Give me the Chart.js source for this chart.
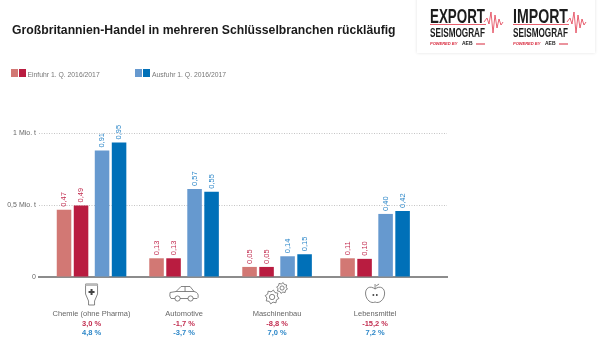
<!DOCTYPE html>
<html lang="de">
<head>
<meta charset="utf-8">
<title>Großbritannien-Handel</title>
<script src="https://cdn.jsdelivr.net/npm/chart.js@4"></script>
<style>
    html, body { margin: 0; padding: 0; background: #fff; }
    #wrap { position: relative; width: 600px; height: 356px; overflow: hidden; font-family: "Liberation Sans", sans-serif; }
    #chart { position: absolute; left: 0; top: 0; }
    h1 { position: absolute; left: 12px; top: 19.5px; margin: 0; font-size: 13.5px; line-height: 20px; font-weight: bold; color: #1a1a1a; white-space: nowrap; transform: scaleX(0.905); transform-origin: left center; }
    .swatch { position: absolute; top: 69px; width: 7px; height: 8px; }
    .legend { position: absolute; top: 69px; font-size: 6.8px; line-height: 11px; color: #777; white-space: nowrap; }
</style>
</head>
<body>
<div id="wrap">
    <canvas id="chart" width="600" height="356"></canvas>
    <h1>Großbritannien-Handel in mehreren Schlüsselbranchen rückläufig</h1>
    <div class="swatch" style="left:11px;background:#d27874"></div>
    <div class="swatch" style="left:19px;background:#b91c40"></div>
    <div class="legend" style="left:27.5px">Einfuhr 1. Q. 2016/2017</div>
    <div class="swatch" style="left:135px;background:#6699cf"></div>
    <div class="swatch" style="left:143px;background:#0070b8"></div>
    <div class="legend" style="left:152px">Ausfuhr 1. Q. 2016/2017</div>
</div>
<script>
var categories = ["Chemie (ohne Pharma)", "Automotive", "Maschinenbau", "Lebensmittel"];

// bar heights as they were drawn in the picture, printed labels differ a bit
var einfuhr2016 = [0.467, 0.13, 0.07, 0.13];
var einfuhr2017 = [0.497, 0.13, 0.07, 0.126];
var ausfuhr2016 = [0.878, 0.611, 0.144, 0.438];
var ausfuhr2017 = [0.934, 0.592, 0.158, 0.459];

var einfuhr2016_labels = ["0,47", "0,13", "0,05", "0,11"];
var einfuhr2017_labels = ["0,49", "0,13", "0,05", "0,10"];
var ausfuhr2016_labels = ["0,91", "0,57", "0,14", "0,40"];
var ausfuhr2017_labels = ["0,95", "0,55", "0,15", "0,42"];

var einfuhr_change = ["3,0 %", "-1,7 %", "-8,8 %", "-15,2 %"];
var ausfuhr_change = ["4,8 %", "-3,7 %", "7,0 %", "7,2 %"];

var y_ticks = { 0: "0", 0.5: "0,5 Mio. t", 1: "1 Mio. t" };

const RED = "#c22d50";
const BLUE = "#2b86c8";
const GRAY = "#666";

// the groups are not evenly spaced in the original, pairs sit a little apart
const group_nudge = [0, -2, -3.5, 0];
const pair_nudge = [-2, -2, 2, 2];

function toPoints(values) {
    return values.map(function(v, i) { return { x: i, y: v }; });
}

function drawTube(ctx, x, y) {
    ctx.beginPath();
    ctx.moveTo(x - 6, y - 11);
    ctx.lineTo(x + 6, y - 11);
    ctx.lineTo(x + 6, y - 1);
    ctx.lineTo(x + 3, y + 6);
    ctx.lineTo(x + 3, y + 10);
    ctx.lineTo(x - 3, y + 10);
    ctx.lineTo(x - 3, y + 6);
    ctx.lineTo(x - 6, y - 1);
    ctx.closePath();
    ctx.stroke();
    ctx.fillStyle = "#bbb";
    ctx.fillRect(x - 6, y - 11, 12, 2);
    ctx.fillStyle = "#444";
    ctx.fillRect(x - 1, y - 6, 2, 6);
    ctx.fillRect(x - 3, y - 4, 6, 2);
}

function drawCar(ctx, x, y) {
    ctx.beginPath();
    ctx.moveTo(x - 9, y + 5);
    ctx.lineTo(x - 13, y + 5);
    ctx.quadraticCurveTo(x - 15, y + 3, x - 14, y - 1);
    ctx.lineTo(x - 8, y - 2);
    ctx.lineTo(x - 3, y - 7);
    ctx.lineTo(x + 6, y - 7);
    ctx.lineTo(x + 10, y - 2);
    ctx.quadraticCurveTo(x + 15, y - 1, x + 14, y + 4);
    ctx.lineTo(x + 13, y + 5);
    ctx.lineTo(x + 9, y + 5);
    ctx.moveTo(x + 4, y + 5);
    ctx.lineTo(x - 4, y + 5);
    ctx.moveTo(x - 8, y - 2);
    ctx.lineTo(x + 10, y - 2);
    ctx.moveTo(x + 1, y - 7);
    ctx.lineTo(x + 1, y - 2);
    ctx.stroke();
    ctx.beginPath();
    ctx.arc(x - 6.5, y + 5, 2.6, 0, Math.PI * 2);
    ctx.moveTo(x + 9, y + 5);
    ctx.arc(x + 6.5, y + 5, 2.6, 0, Math.PI * 2);
    ctx.stroke();
}

function drawGear(ctx, x, y, r) {
    ctx.beginPath();
    for (let i = 0; i < 16; i++) {
        let a = i * Math.PI / 8 + Math.PI / 16;
        let d = i % 2 == 0 ? r : r * 0.75;
        ctx.lineTo(x + Math.cos(a) * d, y + Math.sin(a) * d);
    }
    ctx.closePath();
    ctx.stroke();
    ctx.beginPath();
    ctx.arc(x, y, r * 0.38, 0, Math.PI * 2);
    ctx.stroke();
}

function drawApple(ctx, x, y) {
    ctx.beginPath();
    ctx.moveTo(x, y - 5);
    ctx.bezierCurveTo(x - 5, y - 9, x - 10, y - 6, x - 9.5, y);
    ctx.bezierCurveTo(x - 9, y + 6, x - 4, y + 10, x, y + 8);
    ctx.bezierCurveTo(x + 4, y + 10, x + 9, y + 6, x + 9.5, y);
    ctx.bezierCurveTo(x + 10, y - 6, x + 5, y - 9, x, y - 5);
    ctx.moveTo(x, y - 5);
    ctx.lineTo(x, y - 10);
    ctx.moveTo(x + 1, y - 8);
    ctx.lineTo(x + 4, y - 10);
    ctx.stroke();
    ctx.fillStyle = "#555";
    ctx.fillRect(x - 2.5, y, 1.6, 2);
    ctx.fillRect(x + 0.9, y, 1.6, 2);
}

function drawLogo(ctx, x, word) {
    ctx.textAlign = "left";
    ctx.textBaseline = "alphabetic";
    ctx.fillStyle = "#1c1c1c";
    ctx.font = "bold 20px 'Liberation Sans Narrow', 'Liberation Sans'";
    ctx.fillText(word, x, 22.5, 55);
    ctx.fillStyle = "#e8606e";
    ctx.fillRect(x, 24, 56, 1);
    ctx.fillStyle = "#1c1c1c";
    ctx.font = "bold 12px 'Liberation Sans Narrow', 'Liberation Sans'";
    ctx.fillText("SEISMOGRAF", x, 36.5, 55);
    ctx.font = "italic bold 4px 'Liberation Sans'";
    ctx.fillStyle = "#d8283c";
    ctx.fillText("POWERED BY", x, 44.5, 31);
    ctx.font = "bold 5px 'Liberation Sans'";
    ctx.fillStyle = "#1c1c1c";
    ctx.fillText("AEB", x + 32, 44.8, 13);
    ctx.fillStyle = "#d8283c";
    ctx.fillRect(x + 46, 43.5, 9, 1);
    ctx.strokeStyle = "#e23c50";
    ctx.lineWidth = 0.8;
    ctx.beginPath();
    let pts = [[0, 22], [3, 18], [5, 24], [7, 12], [9, 33], [11, 15], [13, 28], [15, 19], [17, 25], [19, 22]];
    pts.forEach(function(p) { ctx.lineTo(x + 54 + p[0], p[1]); });
    ctx.stroke();
}

const extras_plugin = {
    id: "extras",
    afterDatasetsUpdate: function(chart) {
        chart.data.datasets.forEach(function(ds, d) {
            chart.getDatasetMeta(d).data.forEach(function(bar, i) {
                bar.x += group_nudge[i] + pair_nudge[d];
            });
        });
    },
    afterDraw: function(chart) {
        const ctx = chart.ctx;
        ctx.save();

        // value labels on top of the bars
        ctx.font = "7.5px 'Liberation Sans'";
        ctx.textBaseline = "middle";
        ctx.textAlign = "left";
        chart.data.datasets.forEach(function(ds, d) {
            chart.getDatasetMeta(d).data.forEach(function(bar, i) {
                ctx.save();
                ctx.translate(bar.x, bar.y - 3);
                ctx.rotate(-Math.PI / 2);
                ctx.fillStyle = d < 2 ? RED : BLUE;
                ctx.fillText(ds.valueLabels[i], 0, 0);
                ctx.restore();
            });
        });

        // names, changes and icons below each group
        categories.forEach(function(name, i) {
            const first = chart.getDatasetMeta(0).data[i];
            const last = chart.getDatasetMeta(3).data[i];
            const cx = (first.x + last.x) / 2;
            ctx.textAlign = "center";
            ctx.font = "7.5px 'Liberation Sans'";
            ctx.fillStyle = GRAY;
            ctx.fillText(name, cx, 313.5);
            ctx.font = "bold 7.5px 'Liberation Sans'";
            ctx.fillStyle = RED;
            ctx.fillText(einfuhr_change[i], cx, 323.5);
            ctx.fillStyle = BLUE;
            ctx.fillText(ausfuhr_change[i], cx, 333);

            ctx.strokeStyle = "#666";
            ctx.lineWidth = 0.8;
            if (i == 0) drawTube(ctx, cx, 295);
            if (i == 1) drawCar(ctx, cx, 293.5);
            if (i == 2) {
                drawGear(ctx, cx - 5, 297, 7);
                drawGear(ctx, cx + 5, 288, 5.5);
            }
            if (i == 3) drawApple(ctx, cx, 294);
        });

        // logo box
        ctx.shadowColor = "rgba(0,0,0,0.12)";
        ctx.shadowBlur = 3;
        ctx.fillStyle = "#fff";
        ctx.fillRect(417, -5, 178, 58);
        ctx.shadowColor = "transparent";
        ctx.shadowBlur = 0;
        drawLogo(ctx, 430, "EXPORT");
        drawLogo(ctx, 513, "IMPORT");
        ctx.restore();
    },
};

const ctx = document.getElementById("chart").getContext("2d");
const myChart = new Chart(ctx, {
    type: "bar",
    data: {
        datasets: [{
            label: "Einfuhr 1. Q. 2016",
            data: toPoints(einfuhr2016),
            valueLabels: einfuhr2016_labels,
            backgroundColor: "#d27874",
        }, {
            label: "Einfuhr 1. Q. 2017",
            data: toPoints(einfuhr2017),
            valueLabels: einfuhr2017_labels,
            backgroundColor: "#b91c40",
        }, {
            label: "Ausfuhr 1. Q. 2016",
            data: toPoints(ausfuhr2016),
            valueLabels: ausfuhr2016_labels,
            backgroundColor: "#6699cf",
        }, {
            label: "Ausfuhr 1. Q. 2017",
            data: toPoints(ausfuhr2017),
            valueLabels: ausfuhr2017_labels,
            backgroundColor: "#0070b8",
        }],
    },
    options: {
        responsive: false,
        animation: false,
        categoryPercentage: 0.72,
        barPercentage: 0.855,
        layout: { padding: { top: 133, bottom: 79, left: 0, right: 153 } },
        plugins: {
            legend: { display: false },
            tooltip: { enabled: false },
        },
        scales: {
            x: {
                type: "linear",
                offset: false,
                min: -0.556,
                max: 3.761,
                ticks: { display: false, stepSize: 1, includeBounds: false },
                grid: { display: false },
                border: { display: true, color: "#8c8c8c", width: 2 },
                afterFit: function(scale) { scale.height = 0; },
            },
            y: {
                min: 0,
                max: 1,
                afterFit: function(scale) { scale.width = 39; },
                afterBuildTicks: function(scale) {
                    scale.ticks = [{ value: 0 }, { value: 0.5 }, { value: 1 }];
                },
                ticks: {
                    color: GRAY,
                    padding: 3,
                    font: { family: "'Liberation Sans'", size: 7 },
                    callback: function(value) { return y_ticks[value]; },
                },
                grid: { color: "#c4c4c4", drawTicks: false, lineWidth: 1 },
                border: { display: false, dash: [1, 1.5] },
            },
        },
    },
    plugins: [extras_plugin],
});
</script>
</body>
</html>
